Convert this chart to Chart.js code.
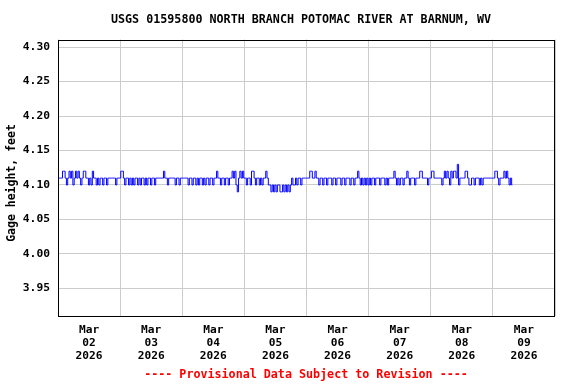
<!DOCTYPE html>
<html>
<head>
<meta charset="utf-8">
<script src="https://cdn.jsdelivr.net/npm/chart.js@4.4.1/dist/chart.umd.min.js"></script>
<style>
  html, body { margin: 0; padding: 0; background: #fff; }
</style>
</head>
<body>
<canvas id="gage" width="576" height="384"></canvas>
<script>
var chartTitle = 'USGS 01595800 NORTH BRANCH POTOMAC RIVER AT BARNUM, WV';
var footNote = '---- Provisional Data Subject to Revision ----';
var yTitle = 'Gage height, feet';
var monthLabel = 'Mar';
var yearLabel = '2026';
var dayLabels = ['02', '03', '04', '05', '06', '07', '08', '09'];
var yTicks = [3.95, 4.00, 4.05, 4.10, 4.15, 4.20, 4.25, 4.30];

// gage height, feet, every 30 minutes starting at midnight
var mar02 = [4.11,4.11,4.11,4.11,4.12,4.12,4.11,4.10,4.11,4.12,4.11,4.12,
             4.10,4.11,4.12,4.11,4.12,4.11,4.10,4.11,4.12,4.12,4.11,4.11,
             4.10,4.11,4.10,4.12,4.11,4.11,4.10,4.11,4.10,4.11,4.11,4.10,
             4.11,4.11,4.10,4.11,4.11,4.11,4.11,4.11,4.11,4.10,4.11,4.11];
var mar03 = [4.11,4.12,4.12,4.11,4.10,4.11,4.11,4.10,4.11,4.10,4.11,4.10,
             4.11,4.11,4.10,4.11,4.10,4.11,4.11,4.10,4.11,4.10,4.11,4.11,
             4.10,4.11,4.11,4.10,4.11,4.11,4.11,4.11,4.11,4.11,4.12,4.11,
             4.11,4.10,4.11,4.11,4.11,4.11,4.11,4.10,4.11,4.11,4.10,4.11];
var mar04 = [4.11,4.11,4.11,4.11,4.11,4.10,4.11,4.11,4.10,4.11,4.11,4.10,
             4.11,4.10,4.11,4.11,4.10,4.11,4.10,4.11,4.11,4.10,4.11,4.11,
             4.10,4.11,4.11,4.12,4.11,4.11,4.10,4.11,4.11,4.10,4.11,4.11,
             4.10,4.11,4.11,4.12,4.11,4.12,4.10,4.09,4.11,4.12,4.11,4.12];
var mar05 = [4.11,4.11,4.10,4.11,4.11,4.10,4.12,4.12,4.11,4.10,4.11,4.11,
             4.10,4.11,4.10,4.11,4.11,4.12,4.11,4.10,4.10,4.09,4.10,4.09,
             4.10,4.09,4.10,4.10,4.09,4.09,4.10,4.09,4.10,4.09,4.10,4.09,
             4.10,4.11,4.10,4.10,4.11,4.10,4.11,4.11,4.10,4.11,4.11,4.11];
var mar06 = [4.11,4.11,4.11,4.12,4.12,4.11,4.11,4.12,4.11,4.11,4.10,4.11,
             4.11,4.10,4.11,4.11,4.10,4.11,4.11,4.11,4.10,4.11,4.11,4.10,
             4.11,4.11,4.11,4.10,4.11,4.11,4.10,4.11,4.11,4.11,4.10,4.11,
             4.11,4.10,4.11,4.11,4.12,4.11,4.10,4.11,4.10,4.11,4.10,4.11];
var mar07 = [4.10,4.11,4.10,4.11,4.11,4.10,4.11,4.11,4.11,4.10,4.11,4.11,
             4.11,4.10,4.11,4.10,4.11,4.11,4.11,4.11,4.12,4.11,4.10,4.11,
             4.10,4.11,4.11,4.10,4.11,4.11,4.12,4.11,4.10,4.11,4.11,4.11,
             4.10,4.11,4.11,4.11,4.12,4.12,4.11,4.11,4.11,4.11,4.10,4.11];
var mar08 = [4.11,4.12,4.12,4.11,4.11,4.11,4.11,4.11,4.11,4.10,4.11,4.12,
             4.11,4.12,4.11,4.10,4.12,4.11,4.12,4.12,4.11,4.13,4.10,4.11,
             4.11,4.11,4.11,4.12,4.12,4.11,4.10,4.10,4.11,4.11,4.10,4.11,
             4.11,4.11,4.10,4.11,4.10,4.11,4.11,4.11,4.11,4.11,4.11,4.11];
var mar09 = [4.11,4.11,4.12,4.12,4.11,4.10,4.11,4.11,4.11,4.12,4.11,4.12,
             4.11,4.10,4.11,4.10];

var readings = mar02.concat(mar03, mar04, mar05, mar06, mar07, mar08, mar09);
// x is hours since Mar 02 00:00
var points = readings.map(function(v, i) { return { x: i * 0.5, y: v }; });

var mono = "'DejaVu Sans Mono', 'Liberation Mono', monospace";
var gridGray = '#cccccc';

var framePlugin = {
  id: 'frame',
  afterDraw: function(chart) {
    var ctx = chart.ctx, a = chart.chartArea;
    ctx.save();
    ctx.strokeStyle = '#000';
    ctx.lineWidth = 1;
    ctx.strokeRect(Math.round(a.left) + 0.5, Math.round(a.top) + 0.5,
                   Math.round(a.right - a.left) - 1, Math.round(a.bottom - a.top) - 1);
    ctx.textAlign = 'center';
    ctx.textBaseline = 'middle';
    ctx.font = 'bold 11.7px ' + mono;
    ctx.fillStyle = '#000';
    ctx.fillText(chartTitle, 301, 20);
    ctx.fillStyle = '#ff0000';
    ctx.fillText(footNote, 306, 375);
    // y axis title, a bit below the plot middle like the original
    ctx.fillStyle = '#000';
    ctx.font = 'bold 11.5px ' + mono;
    ctx.translate(12, 183);
    ctx.rotate(-Math.PI / 2);
    ctx.fillText(yTitle, 0, 0);
    ctx.restore();
  }
};

var ctx = document.getElementById('gage').getContext('2d');
var gageChart = new Chart(ctx, {
  type: 'line',
  data: {
    datasets: [{
      data: points,
      borderColor: '#0000ff',
      borderWidth: 1,
      pointRadius: 0,
      stepped: 'middle',
      fill: false
    }]
  },
  options: {
    responsive: false,
    animation: false,
    layout: { padding: { top: 39.5, right: 21, bottom: 0, left: 0 } },
    plugins: {
      legend: { display: false },
      tooltip: { enabled: false }
    },
    scales: {
      x: {
        type: 'linear',
        min: 0,
        max: dayLabels.length * 24,
        afterBuildTicks: function(axis) {
          var t = [];
          for (var d = 0; d <= dayLabels.length; d++) {
            t.push({ value: d * 24 });
            if (d < dayLabels.length) t.push({ value: d * 24 + 12 });
          }
          axis.ticks = t;
        },
        afterFit: function(axis) { axis.height = 68; },
        border: { display: false },
        grid: {
          drawTicks: false,
          color: function(c) {
            return (c.tick && c.tick.value % 24 === 0) ? gridGray : 'rgba(0,0,0,0)';
          }
        },
        ticks: {
          autoSkip: false,
          maxRotation: 0,
          padding: 7.6,
          color: '#000',
          font: { family: mono, size: 11.2, weight: 'bold', lineHeight: 1.15 },
          callback: function(v) {
            if (v % 24 !== 12) return '';
            return [monthLabel, dayLabels[(v - 12) / 24], yearLabel];
          }
        }
      },
      y: {
        min: 3.91,
        max: 4.311,
        afterBuildTicks: function(axis) {
          axis.ticks = yTicks.map(function(v) { return { value: v }; });
        },
        afterFit: function(axis) { axis.width = 58; },
        border: { display: false },
        grid: { drawTicks: false, color: gridGray },
        ticks: {
          padding: 8,
          color: '#000',
          font: { family: mono, size: 11.3, weight: 'bold' },
          callback: function(v) { return v.toFixed(2); }
        }
      }
    }
  },
  plugins: [framePlugin]
});
</script>
</body>
</html>
